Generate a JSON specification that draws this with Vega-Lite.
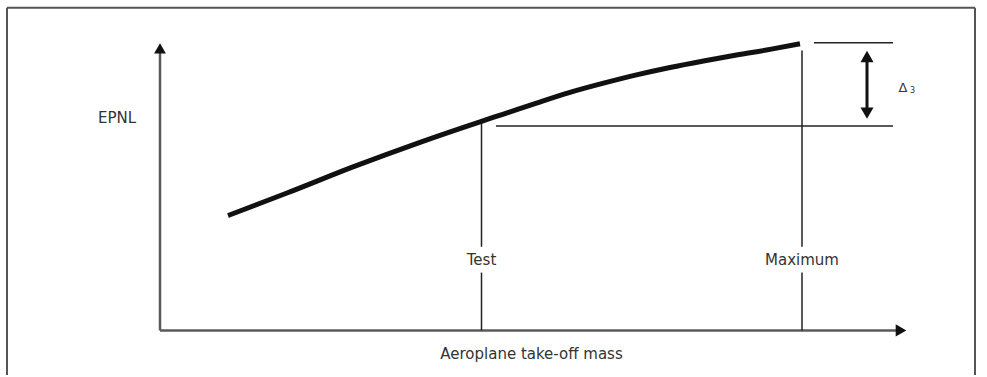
{
  "$schema": "https://vega.github.io/schema/vega-lite/v6.json",
  "width": 987,
  "height": 377,
  "autosize": {"type": "fit", "contains": "padding"},
  "padding": 0,
  "background": "white",
  "config": {"view": {"stroke": null}},
  "datasets": {
    "curve": [
      {"mass": 13.6, "epnl": 38.7},
      {"mass": 25.4, "epnl": 46.3},
      {"mass": 38.6, "epnl": 55.1},
      {"mass": 52.0, "epnl": 63.4},
      {"mass": 64.0, "epnl": 70.3},
      {"mass": 68.7, "epnl": 72.9},
      {"mass": 75.3, "epnl": 76.6},
      {"mass": 82.0, "epnl": 80.2},
      {"mass": 88.7, "epnl": 83.3},
      {"mass": 95.3, "epnl": 86.1},
      {"mass": 102.0, "epnl": 88.6},
      {"mass": 108.7, "epnl": 90.8},
      {"mass": 115.3, "epnl": 92.8},
      {"mass": 122.0, "epnl": 94.7},
      {"mass": 128.0, "epnl": 96.6}
    ],
    "frame": [
      {"x": -30.6, "x2": 163.0, "y": 108.7, "y2": 108.7},
      {"x": -30.6, "x2": -30.6, "y": 108.7, "y2": -15},
      {"x": 163.0, "x2": 163.0, "y": 108.7, "y2": -15}
    ],
    "axes": [
      {"x": 0, "x2": 0, "y": 0, "y2": 94},
      {"x": 0, "x2": 147.5, "y": 0, "y2": 0}
    ],
    "thin": [
      {"x": 64.3, "x2": 64.3, "y": 70.2, "y2": 28.2},
      {"x": 64.3, "x2": 64.3, "y": 19.5, "y2": 0},
      {"x": 128.4, "x2": 128.4, "y": 94.3, "y2": 28.2},
      {"x": 128.4, "x2": 128.4, "y": 19.5, "y2": 0},
      {"x": 130.8, "x2": 146.6, "y": 96.9, "y2": 96.9},
      {"x": 67.2, "x2": 146.6, "y": 68.9, "y2": 68.9}
    ],
    "shaft": [
      {"x": 141.4, "x2": 141.4, "y": 92, "y2": 73.5}
    ],
    "heads": [
      {"x": 0, "y": 95, "shape": "triangle-up", "s": 140},
      {"x": 148.2, "y": 0, "shape": "triangle-right", "s": 150},
      {"x": 141.4, "y": 92.3, "shape": "triangle-up", "s": 170},
      {"x": 141.4, "y": 73.2, "shape": "triangle-down", "s": 170}
    ],
    "labels": [
      {"x": -8.6, "y": 71.7, "text": "EPNL"},
      {"x": 64.3, "y": 23.7, "text": "Test"},
      {"x": 128.4, "y": 23.7, "text": "Maximum"},
      {"x": 74.3, "y": -8, "text": "Aeroplane take-off mass"}
    ]
  },
  "layer": [
    {
      "data": {"name": "frame"},
      "mark": {"type": "rule", "color": "#555555", "strokeWidth": 2},
      "encoding": {
        "x": {"field": "x", "type": "quantitative", "scale": {"domain": [-32, 165.4], "nice": false, "zero": false}, "axis": null},
        "x2": {"field": "x2"},
        "y": {"field": "y", "type": "quantitative", "scale": {"domain": [-14.333, 111.333], "nice": false, "zero": false}, "axis": null},
        "y2": {"field": "y2"}
      }
    },
    {
      "data": {"name": "axes"},
      "mark": {"type": "rule", "color": "#5a5a5a", "strokeWidth": 2.5},
      "encoding": {
        "x": {"field": "x", "type": "quantitative"},
        "x2": {"field": "x2"},
        "y": {"field": "y", "type": "quantitative"},
        "y2": {"field": "y2"}
      }
    },
    {
      "data": {"name": "thin"},
      "mark": {"type": "rule", "color": "#222222", "strokeWidth": 1.5},
      "encoding": {
        "x": {"field": "x", "type": "quantitative"},
        "x2": {"field": "x2"},
        "y": {"field": "y", "type": "quantitative"},
        "y2": {"field": "y2"}
      }
    },
    {
      "data": {"name": "shaft"},
      "mark": {"type": "rule", "color": "#111111", "strokeWidth": 3},
      "encoding": {
        "x": {"field": "x", "type": "quantitative"},
        "x2": {"field": "x2"},
        "y": {"field": "y", "type": "quantitative"},
        "y2": {"field": "y2"}
      }
    },
    {
      "data": {"name": "curve"},
      "mark": {"type": "line", "color": "#111111", "strokeWidth": 5, "interpolate": "monotone"},
      "encoding": {
        "x": {"field": "mass", "type": "quantitative"},
        "y": {"field": "epnl", "type": "quantitative"}
      }
    },
    {
      "data": {"name": "heads"},
      "mark": {"type": "point", "filled": true, "color": "#111111", "opacity": 1},
      "encoding": {
        "x": {"field": "x", "type": "quantitative"},
        "y": {"field": "y", "type": "quantitative"},
        "shape": {"field": "shape", "type": "nominal", "scale": null},
        "size": {"field": "s", "type": "quantitative", "scale": null}
      }
    },
    {
      "data": {"name": "labels"},
      "mark": {"type": "text", "font": "DejaVu Sans", "fontSize": 15, "color": "#333333", "align": "center", "baseline": "middle"},
      "encoding": {
        "x": {"field": "x", "type": "quantitative"},
        "y": {"field": "y", "type": "quantitative"},
        "text": {"field": "text"}
      }
    },
    {
      "data": {"values": [{"x": 148.6, "y": 81.8, "text": "Δ"}]},
      "mark": {"type": "text", "font": "DejaVu Sans", "fontSize": 13, "color": "#333333", "align": "center", "baseline": "middle"},
      "encoding": {
        "x": {"field": "x", "type": "quantitative"},
        "y": {"field": "y", "type": "quantitative"},
        "text": {"field": "text"}
      }
    },
    {
      "data": {"values": [{"x": 150.5, "y": 80.6, "text": "3"}]},
      "mark": {"type": "text", "font": "DejaVu Sans", "fontSize": 8, "color": "#333333", "align": "center", "baseline": "middle"},
      "encoding": {
        "x": {"field": "x", "type": "quantitative"},
        "y": {"field": "y", "type": "quantitative"},
        "text": {"field": "text"}
      }
    }
  ]
}
